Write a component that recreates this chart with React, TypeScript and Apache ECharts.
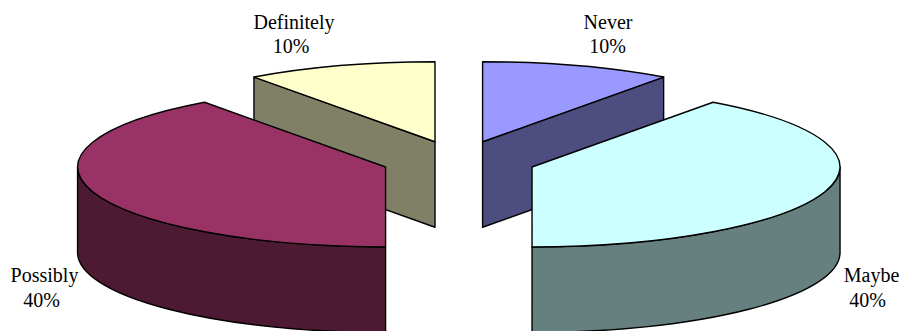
import React, { useEffect, useRef } from "react";
import * as echarts from "echarts";

const categories = ["Never", "Maybe", "Possibly", "Definitely"];
const shares = [10, 40, 40, 10];
const topColors = ["#9999FF", "#CCFFFF", "#993366", "#FFFFCC"];
const wallColors = ["#4D4D80", "#668080", "#4D1A33", "#808066"];

// Back slices are painted first so the front slices overlap them.
const paintOrder = [0, 3, 1, 2];

// Projected pie: ellipse radii, extrusion depth and how far slices pull out.
const CX = 458.8;
const CY = 160.8;
const RX = 308;
const RY = 80;
const DEPTH = 85.5;
const EXPLODE = 0.25;

// Each label line is [text kind, x centre, y centre] per slice.
const labelAnchors = [
  { name: [608, 21.5], pct: [607.5, 46] },
  { name: [871.5, 275], pct: [867.5, 300] },
  { name: [44.5, 275], pct: [41.5, 300] },
  { name: [294, 21.5], pct: [291, 46] },
];

const total = shares.reduce((a, b) => a + b, 0);
const startAngles = shares.map((_, i) =>
  (shares.slice(0, i).reduce((a, b) => a + b, 0) / total) * 360
);

const rad = (deg: number) => (deg * Math.PI) / 180;

function renderSlice(params: any, api: any) {
  const idx = api.value(0);
  const share = api.value(1);
  const a0 = api.value(2);
  const a1 = a0 + (share / total) * 360;
  const mid = (a0 + a1) / 2;
  const cx = CX + EXPLODE * RX * Math.sin(rad(mid));
  const cy = CY - EXPLODE * RY * Math.cos(rad(mid));
  const rim = (deg: number, drop = 0): [number, number] => [
    cx + RX * Math.sin(rad(deg)),
    cy - RY * Math.cos(rad(deg)) + drop,
  ];
  const arc = (to: number, sweep: number, drop = 0) => {
    const [x, y] = rim(to, drop);
    return `A${RX} ${RY} 0 0 ${sweep} ${x} ${y}`;
  };
  const line = { stroke: "#000", lineWidth: 1.4, lineJoin: "round" };
  const shapes: any[] = [];
  const addPath = (d: string, fill: string) =>
    shapes.push({
      type: "path",
      shape: { pathData: d },
      style: { ...line, fill },
    });

  // Cut faces that turn towards the viewer.
  const radialWall = (deg: number) => {
    const [x, y] = rim(deg);
    addPath(
      `M${cx} ${cy}L${x} ${y}L${x} ${y + DEPTH}L${cx} ${cy + DEPTH}Z`,
      wallColors[idx]
    );
  };
  if (Math.sin(rad(a0)) < -1e-6) radialWall(a0);
  if (Math.sin(rad(a1)) > 1e-6) radialWall(a1);

  // Outer rim wall, only on the near half of the ellipse.
  const lo = Math.max(a0, 90);
  const hi = Math.min(a1, 270);
  if (hi > lo) {
    const [lx, ly] = rim(lo);
    const [hx, hy] = rim(hi);
    addPath(
      `M${lx} ${ly}${arc(hi, 1)}L${hx} ${hy + DEPTH}${arc(lo, 0, DEPTH)}Z`,
      wallColors[idx]
    );
  }

  // Top face.
  const [sx, sy] = rim(a0);
  addPath(`M${cx} ${cy}L${sx} ${sy}${arc(a1, 1)}Z`, topColors[idx]);

  const anchor = labelAnchors[idx];
  const textStyle = (text: string, p: number[]) => ({
    type: "text",
    style: {
      x: p[0],
      y: p[1],
      text,
      fill: "#000",
      font: '20px "Liberation Serif"',
      align: "center",
      verticalAlign: "middle",
    },
  });
  shapes.push(textStyle(categories[idx], anchor.name));
  shapes.push(textStyle(`${share}%`, anchor.pct));

  return { type: "group", children: shapes };
}

export default function App() {
  const ref = useRef<HTMLDivElement>(null);
  useEffect(() => {
    const chart = echarts.init(ref.current, undefined, { renderer: "svg" });
    chart.setOption({
      animation: false,
      backgroundColor: "#fff",
      series: [
        {
          type: "custom",
          coordinateSystem: "none",
          renderItem: renderSlice,
          clip: false,
          encode: { value: 1 },
          data: paintOrder.map((i) => ({
            name: categories[i],
            value: [i, shares[i], startAngles[i]],
          })),
        },
      ],
    });
    return () => chart.dispose();
  }, []);
  return (
    <div
      ref={ref}
      style={{ position: "absolute", left: 0, top: 0, width: 903, height: 331 }}
    />
  );
}
